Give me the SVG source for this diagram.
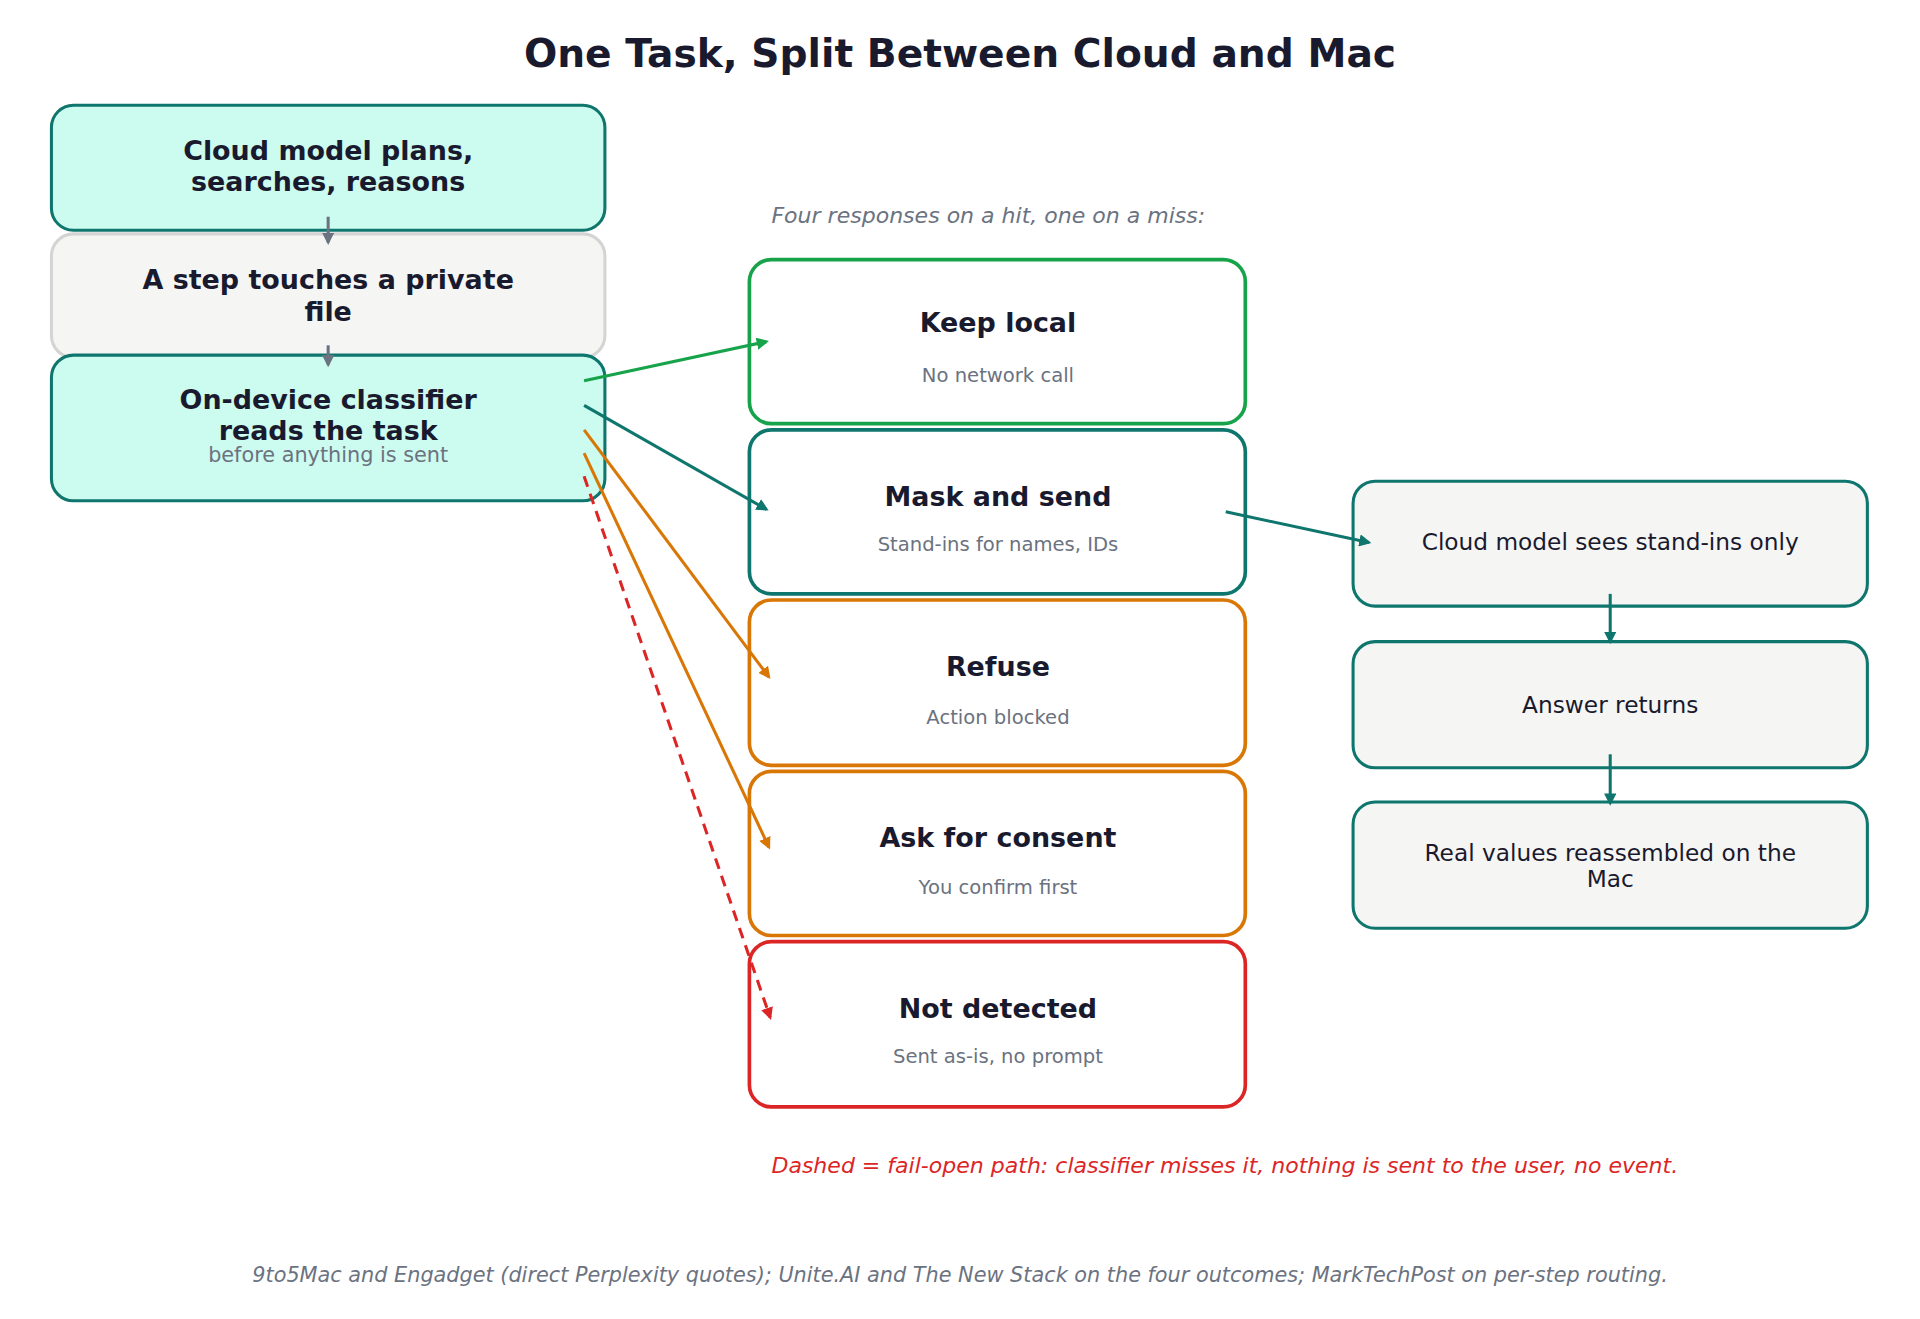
<svg xmlns="http://www.w3.org/2000/svg" width="1920" height="1319" viewBox="0 0 1920 1319">
<style>
text{font-family:"DejaVu Sans","Liberation Sans",sans-serif;text-anchor:middle}
.t{font-weight:bold;font-size:22px;fill:#1a1a2e}
.s{font-size:16px;fill:#6b7280}
.r{font-size:19px;fill:#1a1a2e}
.teal{fill:#ccfbef;stroke:#0f766e;stroke-width:2.5}
.mid{fill:#fff;stroke-width:3}
.rb{fill:#f5f5f4;stroke:#0f766e;stroke-width:2.5}
.c{fill:none;stroke-width:2.5}
</style>
<defs>
<marker id="ag" markerWidth="10" markerHeight="10" refX="8" refY="5" orient="auto" markerUnits="userSpaceOnUse"><path d="M0,0L10,5L0,10z" fill="#16a34a"/></marker>
<marker id="at" markerWidth="10" markerHeight="10" refX="8" refY="5" orient="auto" markerUnits="userSpaceOnUse"><path d="M0,0L10,5L0,10z" fill="#0f766e"/></marker>
<marker id="ao" markerWidth="10" markerHeight="10" refX="8" refY="5" orient="auto" markerUnits="userSpaceOnUse"><path d="M0,0L10,5L0,10z" fill="#d97706"/></marker>
<marker id="ar" markerWidth="10" markerHeight="10" refX="8" refY="5" orient="auto" markerUnits="userSpaceOnUse"><path d="M0,0L10,5L0,10z" fill="#dc2626"/></marker>
<marker id="ay" markerWidth="10" markerHeight="10" refX="8" refY="5" orient="auto" markerUnits="userSpaceOnUse"><path d="M0,0L10,5L0,10z" fill="#6b7280"/></marker>
</defs>
<rect width="1920" height="1319" fill="#fff"/>
<g transform="scale(1.2245)">
<text x="784" y="55" style="font-weight:bold;font-size:32px;fill:#1a1a2e">One Task, Split Between Cloud and Mac</text>
<g id="n1"><rect class="teal" x="42" y="86" width="452" height="102" rx="18"/><text class="t" x="268" y="131">Cloud model plans,</text><text class="t" x="268" y="156">searches, reasons</text></g>
<g id="n2"><rect x="42" y="191" width="452" height="101" rx="18" fill="#f5f5f4" stroke="#d4d4d4" stroke-width="2.5"/><text class="t" x="268" y="236">A step touches a private</text><text class="t" x="268" y="262">file</text></g>
<g id="n3"><rect class="teal" x="42" y="290" width="452" height="119" rx="18"/><text class="t" x="268" y="334">On-device classifier</text><text class="t" x="268" y="359">reads the task</text><text x="268" y="377" style="font-size:17px;fill:#6b7280">before anything is sent</text></g>
<text x="630" y="182" style="text-anchor:start;font-style:italic;font-size:18px;fill:#6b7280">Four responses on a hit, one on a miss:</text>
<g id="keep"><rect class="mid" x="612" y="212" width="405" height="134" rx="18" stroke="#16a34a"/><text class="t" x="815" y="271">Keep local</text><text class="s" x="815" y="312">No network call</text></g>
<g id="mask"><rect class="mid" x="612" y="351" width="405" height="134" rx="18" stroke="#0f766e"/><text class="t" x="815" y="413">Mask and send</text><text class="s" x="815" y="450">Stand-ins for names, IDs</text></g>
<g id="refuse"><rect class="mid" x="612" y="490" width="405" height="135" rx="18" stroke="#d97706"/><text class="t" x="815" y="552">Refuse</text><text class="s" x="815" y="591">Action blocked</text></g>
<g id="ask"><rect class="mid" x="612" y="630" width="405" height="134" rx="18" stroke="#d97706"/><text class="t" x="815" y="692">Ask for consent</text><text class="s" x="815" y="730">You confirm first</text></g>
<g id="nd"><rect class="mid" x="612" y="769" width="405" height="135" rx="18" stroke="#dc2626"/><text class="t" x="815" y="831">Not detected</text><text class="s" x="815" y="868">Sent as-is, no prompt</text></g>
<g id="r1"><rect class="rb" x="1105" y="393" width="420" height="102" rx="18"/><text class="r" x="1315" y="449">Cloud model sees stand-ins only</text></g>
<g id="r2"><rect class="rb" x="1105" y="524" width="420" height="103" rx="18"/><text class="r" x="1315" y="582">Answer returns</text></g>
<g id="r3"><rect class="rb" x="1105" y="655" width="420" height="103" rx="18"/><text class="r" x="1315" y="703">Real values reassembled on the</text><text class="r" x="1315" y="724">Mac</text></g>
<g id="connectors">
<path class="c" stroke="#6b7280" d="M268,177V198" marker-end="url(#ay)"/>
<path class="c" stroke="#6b7280" d="M268,282V298" marker-end="url(#ay)"/>
<path class="c" stroke="#16a34a" d="M477,311L626,279" marker-end="url(#ag)"/>
<path class="c" stroke="#0f766e" d="M477,331L626,416" marker-end="url(#at)"/>
<path class="c" stroke="#d97706" d="M477,351L628,553" marker-end="url(#ao)"/>
<path class="c" stroke="#d97706" d="M477,370L628,692" marker-end="url(#ao)"/>
<path class="c" stroke="#dc2626" stroke-dasharray="9,6" d="M477,389L629,831" marker-end="url(#ar)"/>
<path class="c" stroke="#0f766e" d="M1001,418L1118,443" marker-end="url(#at)"/>
<path class="c" stroke="#0f766e" d="M1315,485V524" marker-end="url(#at)"/>
<path class="c" stroke="#0f766e" d="M1315,616V656" marker-end="url(#at)"/>
</g>
<text x="630" y="958" style="text-anchor:start;font-style:italic;font-size:18px;fill:#dc2626">Dashed = fail-open path: classifier misses it, nothing is sent to the user, no event.</text>
<text x="784" y="1047" style="font-style:italic;font-size:17px;fill:#6b7280">9to5Mac and Engadget (direct Perplexity quotes); Unite.AI and The New Stack on the four outcomes; MarkTechPost on per-step routing.</text>
</g>
</svg>
